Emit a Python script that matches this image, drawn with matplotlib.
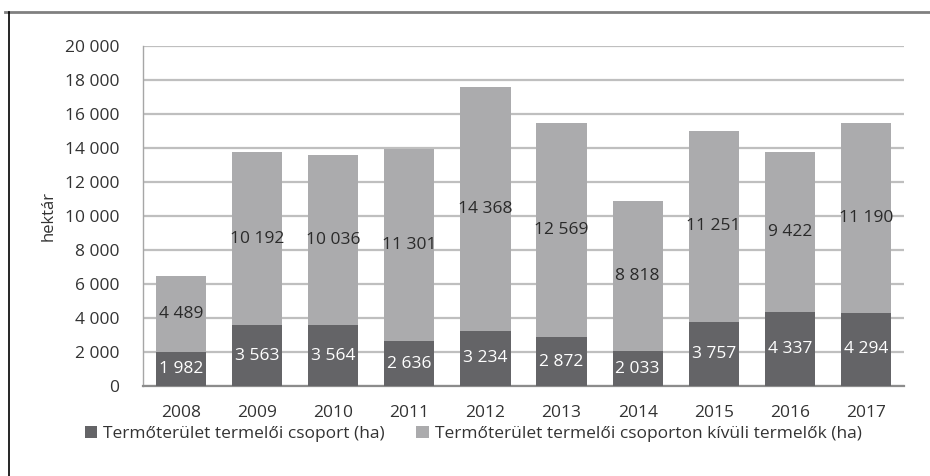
import matplotlib.pyplot as plt
from matplotlib.lines import Line2D
import numpy as np

# data
years = ['2008', '2009', '2010', '2011', '2012', '2013', '2014', '2015', '2016', '2017']
group_area = [1982, 3563, 3564, 2636, 3234, 2872, 2033, 3757, 4337, 4294]
outside_area = [4489, 10192, 10036, 11301, 14368, 12569, 8818, 11251, 9422, 11190]
yticks = [0, 2000, 4000, 6000, 8000, 10000, 12000, 14000, 16000, 18000, 20000]
labels = ['Termőterület termelői csoport (ha)',
          'Termőterület termelői csoporton kívüli termelők (ha)']


def fmt(v):
    return f'{int(round(v)):,}'.replace(',', ' ')


plt.rcParams['font.family'] = ['Open Sans', 'DejaVu Sans']

fig = plt.figure(figsize=(9.3, 4.76), dpi=100)
ax = fig.add_axes([143 / 930, 1 - 386 / 476, (904 - 143) / 930, (386 - 45.7) / 476])

x = np.arange(len(years))
dark = '#646467'
light = '#ababad'
b1 = ax.bar(x, group_area, width=0.66, color=dark, label=labels[0], zorder=3)
b2 = ax.bar(x, outside_area, width=0.66, bottom=group_area, color=light,
            label=labels[1], zorder=3)

ax.bar_label(b1, labels=[fmt(v) for v in group_area], label_type='center',
             color='white', fontsize=12.5)
ax.bar_label(b2, labels=[fmt(v) for v in outside_area], label_type='center',
             color='#2a2a2a', fontsize=12.5)

ax.set_xlim(-0.5, len(years) - 0.5)
ax.set_ylim(0, 20000)
ax.set_yticks(yticks)
ax.set_yticklabels([fmt(v) for v in yticks])
ax.set_xticks(x)
ax.set_xticklabels(years)
ax.tick_params(axis='both', length=0, labelsize=12.5, colors='#333333')
ax.tick_params(axis='y', pad=17)
ax.tick_params(axis='x', pad=14)
ax.set_ylabel('hektár', fontsize=12, color='#333333', labelpad=6)

ax.grid(axis='y', color='#bfbfbf', linewidth=1.6, zorder=0)
ax.set_axisbelow(True)
for s in ['top', 'right']:
    ax.spines[s].set_visible(False)
ax.spines['left'].set_color('#a6a6a6')
ax.spines['left'].set_linewidth(1.0)
ax.spines['bottom'].set_color('#8c8c8c')
ax.spines['bottom'].set_linewidth(1.6)

fig.legend(loc='center', bbox_to_anchor=(0.509, 1 - 434 / 476), ncol=2,
           frameon=False, fontsize=12.5, handlelength=0.7, handleheight=0.7,
           handletextpad=0.35, columnspacing=1.8, labelcolor='#333333')

# frame lines around the chart
fig.add_artist(Line2D([5 / 930, 1], [1 - 12 / 476, 1 - 12 / 476],
                      transform=fig.transFigure, color='#808080', linewidth=2))
fig.add_artist(Line2D([9 / 930, 9 / 930], [0, 1 - 12 / 476],
                      transform=fig.transFigure, color='black', linewidth=1.2))

fig.savefig('out.png', dpi=100)
